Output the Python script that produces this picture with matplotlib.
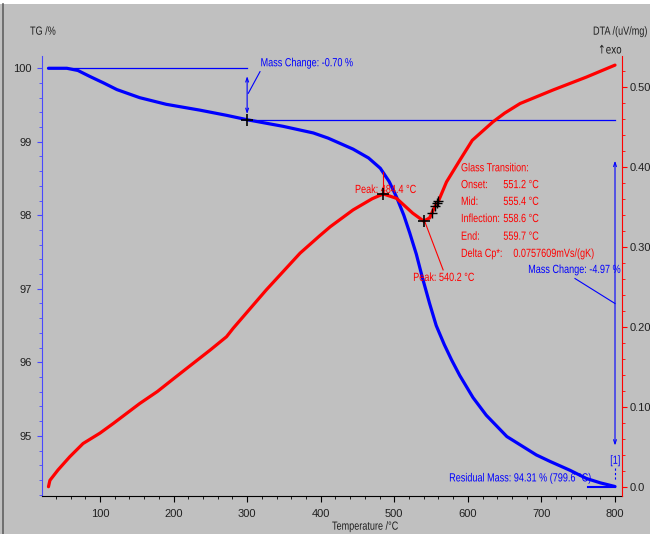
import numpy as np
import matplotlib
matplotlib.use('Agg')
import matplotlib.pyplot as plt
from matplotlib.ticker import MultipleLocator, FixedLocator
from matplotlib.patches import Rectangle
from matplotlib.lines import Line2D
from matplotlib.patheffects import AbstractPathEffect
from matplotlib.transforms import Affine2D

# TG curve: temperature (degC) vs mass (%)
tg_temp = [30, 45, 55, 70, 86, 105, 123, 154, 190, 236, 272, 300, 349, 390,
           410, 444, 465, 481, 493, 503, 513, 521, 530, 538, 548, 557, 568,
           578, 589, 607, 625, 653, 693, 712, 739, 761, 780, 800]
tg_mass = [100.0, 100.0, 100.0, 99.97, 99.89, 99.80, 99.71, 99.60, 99.51,
           99.43, 99.36, 99.30, 99.21, 99.12, 99.05, 98.90, 98.78, 98.64,
           98.46, 98.25, 98.00, 97.76, 97.47, 97.16, 96.80, 96.50, 96.24,
           96.03, 95.82, 95.52, 95.28, 94.99, 94.74, 94.65, 94.53, 94.42,
           94.36, 94.31]

# DTA curve: temperature (degC) vs signal (uV/mg)
dta_temp = [30, 32, 43, 59, 77, 100, 118, 154, 178, 200, 218, 250, 272, 281,
            326, 372, 399, 413, 444, 470, 485, 503, 525, 540, 548, 555, 560,
            571, 589, 606, 634, 650, 671, 716, 761, 800]
dta_signal = [0.000, 0.008, 0.021, 0.0375, 0.054, 0.067, 0.079, 0.104, 0.119,
              0.135, 0.148, 0.171, 0.1875, 0.198, 0.246, 0.292, 0.314, 0.325,
              0.346, 0.360, 0.366, 0.3605, 0.342, 0.332, 0.336, 0.350, 0.357,
              0.381, 0.408, 0.433, 0.456, 0.467, 0.479, 0.496, 0.512, 0.527]

x_ticks = [100, 200, 300, 400, 500, 600, 700, 800]
tg_ticks = [95, 96, 97, 98, 99, 100]
dta_ticks = [0.0, 0.1, 0.2, 0.3, 0.4, 0.5]
dta_tick_labels = ['0.0', '0.10', '0.20', '0.30', '0.40', '0.50']

# evaluation results
step_temp = 300
mass_change_1 = -0.70
mass_change_2 = -4.97
residual_mass = 94.31
residual_temp = 799.6
peak_temps = [484.4, 540.2]
glass_names = ['Onset:', 'Mid:', 'Inflection:', 'End:']
glass_temps = [551.2, 555.4, 558.6, 559.7]
delta_cp = '0.0757609mVs/(gK)'

BG = '#c0c0c0'
BLUE = '#0000ff'
RED = '#ff0000'
AX_BLUE = '#4848ff'
TXT = '#202020'


class Condensed(AbstractPathEffect):
    """Squeeze glyphs horizontally (narrow sans look)."""

    def __init__(self, sx=0.77):
        super().__init__()
        self.sx = sx

    def draw_path(self, renderer, gc, tpath, affine, rgbFace=None):
        renderer.draw_path(gc, tpath, Affine2D().scale(self.sx, 1) + affine, rgbFace)


NARROW = [Condensed()]

plt.rcParams['font.family'] = ['Liberation Sans', 'DejaVu Sans']
plt.rcParams['font.size'] = 8.5

fig = plt.figure(figsize=(6.5, 5.34), dpi=100, facecolor=BG)
ax = fig.add_axes([41.7 / 650, 1 - 496 / 534, 580 / 650, 440 / 534])
ax.set_facecolor(BG)
ax2 = ax.twinx()

# frame decoration at the top / left edge
fig.add_artist(Rectangle((0, 1 - 4 / 534), 1, 4 / 534, transform=fig.transFigure,
                         facecolor='white', edgecolor='none'))
fig.add_artist(Line2D([3 / 650, 3 / 650], [0, 1 - 4 / 534], transform=fig.transFigure,
                      color='#606060', lw=1.2))

ax.set_xlim(20.8, 809.1)
ax.set_ylim(94.181, 100.167)
ax2.set_ylim(-0.0116, 0.5384)

for a in (ax, ax2):
    a.spines['top'].set_visible(False)
ax.spines['right'].set_visible(False)
ax2.spines['left'].set_visible(False)
ax2.spines['bottom'].set_visible(False)
ax.spines['left'].set_color(AX_BLUE)
ax.spines['bottom'].set_color('black')
ax2.spines['right'].set_color(RED)

ax.xaxis.set_major_locator(FixedLocator(x_ticks))
ax.xaxis.set_minor_locator(MultipleLocator(20))
ax.yaxis.set_major_locator(FixedLocator(tg_ticks))
ax.yaxis.set_minor_locator(MultipleLocator(0.2))
ax2.yaxis.set_major_locator(FixedLocator(dta_ticks))
ax2.set_yticklabels(dta_tick_labels)
ax2.yaxis.set_minor_locator(MultipleLocator(0.02))

ax.tick_params(axis='x', which='major', length=4.5, color='black', labelcolor=TXT,
               labelsize=8, pad=5)
ax.tick_params(axis='x', which='minor', length=2.5, color='black')
ax.tick_params(axis='y', which='major', length=3.5, color=AX_BLUE, labelcolor=TXT,
               labelsize=8, pad=3.5)
ax.tick_params(axis='y', which='minor', length=2, color=AX_BLUE)
ax2.tick_params(axis='y', which='major', length=3.5, color=RED, labelcolor=TXT,
                labelsize=8, pad=2.2)
ax2.tick_params(axis='y', which='minor', length=2, color=RED)

# curves
ax.plot(tg_temp, tg_mass, color=BLUE, lw=2.3, solid_capstyle='round',
        solid_joinstyle='round', zorder=3)
ax2.plot(dta_temp, dta_signal, color=RED, lw=2.3, solid_capstyle='round',
         solid_joinstyle='round', zorder=3)

# first mass step
lvl0 = tg_mass[0]
lvl1 = lvl0 + mass_change_1
ax.plot([tg_temp[0], step_temp], [lvl0, lvl0], color=BLUE, lw=0.9)
ax.plot([step_temp, tg_temp[-1]], [lvl1, lvl1], color=BLUE, lw=0.9)
ax.annotate('', xy=(step_temp, lvl1 + 0.04), xytext=(step_temp, lvl0 - 0.07),
            arrowprops=dict(arrowstyle='<->,head_length=0.35,head_width=0.12',
                            color=BLUE, lw=0.8))
ax.plot([step_temp + 1.6, step_temp + 17.5], [99.66, 99.954], color=BLUE, lw=0.8)
ax.plot([step_temp], [lvl1], marker='+', color='black', ms=8, mew=1.2, zorder=5)
ax.text(318.3, 100.068, f'Mass Change: {mass_change_1:.2f} %', color=BLUE,
        ha='left', va='center', path_effects=NARROW)

# second mass step
ax.annotate('', xy=(tg_temp[-1], 94.83), xytext=(tg_temp[-1], 98.78),
            arrowprops=dict(arrowstyle='<->,head_length=0.35,head_width=0.12',
                            color=BLUE, lw=0.8))
ax.plot([745.6, tg_temp[-1]], [97.14, 96.80], color=BLUE, lw=0.8)
ax.text(682, 97.256, f'Mass Change: {mass_change_2:.2f} %', color=BLUE,
        ha='left', va='center', path_effects=NARROW)
ax.text(793.5, 94.66, '[1]', color=BLUE, ha='left', va='center', path_effects=NARROW)
ax.plot([tg_temp[-1], tg_temp[-1]], [94.56, 94.40], color=BLUE, lw=0.8, ls=(0, (2, 2)))
ax.plot([763.7, tg_temp[-1]], [residual_mass, residual_mass], color=BLUE, lw=1.5)
ax.text(574.6, 94.42, f'Residual Mass: {residual_mass:.2f} % ({residual_temp:.1f} °C)',
        color=BLUE, ha='left', va='center', path_effects=NARROW)

# DTA peaks
peak_vals = np.interp(peak_temps, dta_temp, dta_signal)
ax2.plot(peak_temps, peak_vals, ls='none', marker='+', color='black', ms=8, mew=1.2,
         zorder=5)
ax2.plot([peak_temps[0], peak_temps[0]], [0.394, peak_vals[0]], color=RED, lw=0.8)
ax2.text(446.6, 0.3709, f'Peak: {peak_temps[0]:.1f} °C', color=RED, ha='left',
         va='center', path_effects=NARROW)
ax2.plot([peak_temps[1] + 1, 566.4], [peak_vals[1], 0.271], color=RED, lw=0.8)
ax2.text(525.7, 0.261, f'Peak: {peak_temps[1]:.1f} °C', color=RED, ha='left',
         va='center', path_effects=NARROW)

# glass transition
glass_vals = np.interp(glass_temps, dta_temp, dta_signal)
ax2.plot(glass_temps, glass_vals, ls='none', marker='+', color='black', ms=7, mew=1.0,
         zorder=5)
rows_y = [0.398, 0.377, 0.356, 0.3346, 0.3125, 0.291]
ax2.text(590.7, rows_y[0], 'Glass Transition:', color=RED, ha='left', va='center',
         path_effects=NARROW)
for name, t, yy in zip(glass_names, glass_temps, rows_y[1:5]):
    ax2.text(590.7, yy, name, color=RED, ha='left', va='center', path_effects=NARROW)
    ax2.text(648.2, yy, f'{t:.1f} °C', color=RED, ha='left', va='center',
             path_effects=NARROW)
ax2.text(590.7, rows_y[5], 'Delta Cp*:', color=RED, ha='left', va='center',
         path_effects=NARROW)
ax2.text(661.8, rows_y[5], delta_cp, color=RED, ha='left', va='center',
         path_effects=NARROW)

# axis titles
fig.text(30 / 650, 1 - 31.7 / 534, 'TG /%', color=TXT, ha='left', va='center',
         path_effects=NARROW)
fig.text(593 / 650, 1 - 31.7 / 534, 'DTA /(uV/mg)', color=TXT, ha='left', va='center',
         path_effects=NARROW)
fig.text(598 / 650, 1 - 50 / 534, '↑exo', color=TXT, ha='left', va='center',
         family='DejaVu Sans', path_effects=NARROW)
fig.text(332 / 650, 1 - 526.7 / 534, 'Temperature /°C', color=TXT, ha='left',
         va='center', path_effects=NARROW)

fig.savefig('out.png', dpi=100, facecolor=BG)
